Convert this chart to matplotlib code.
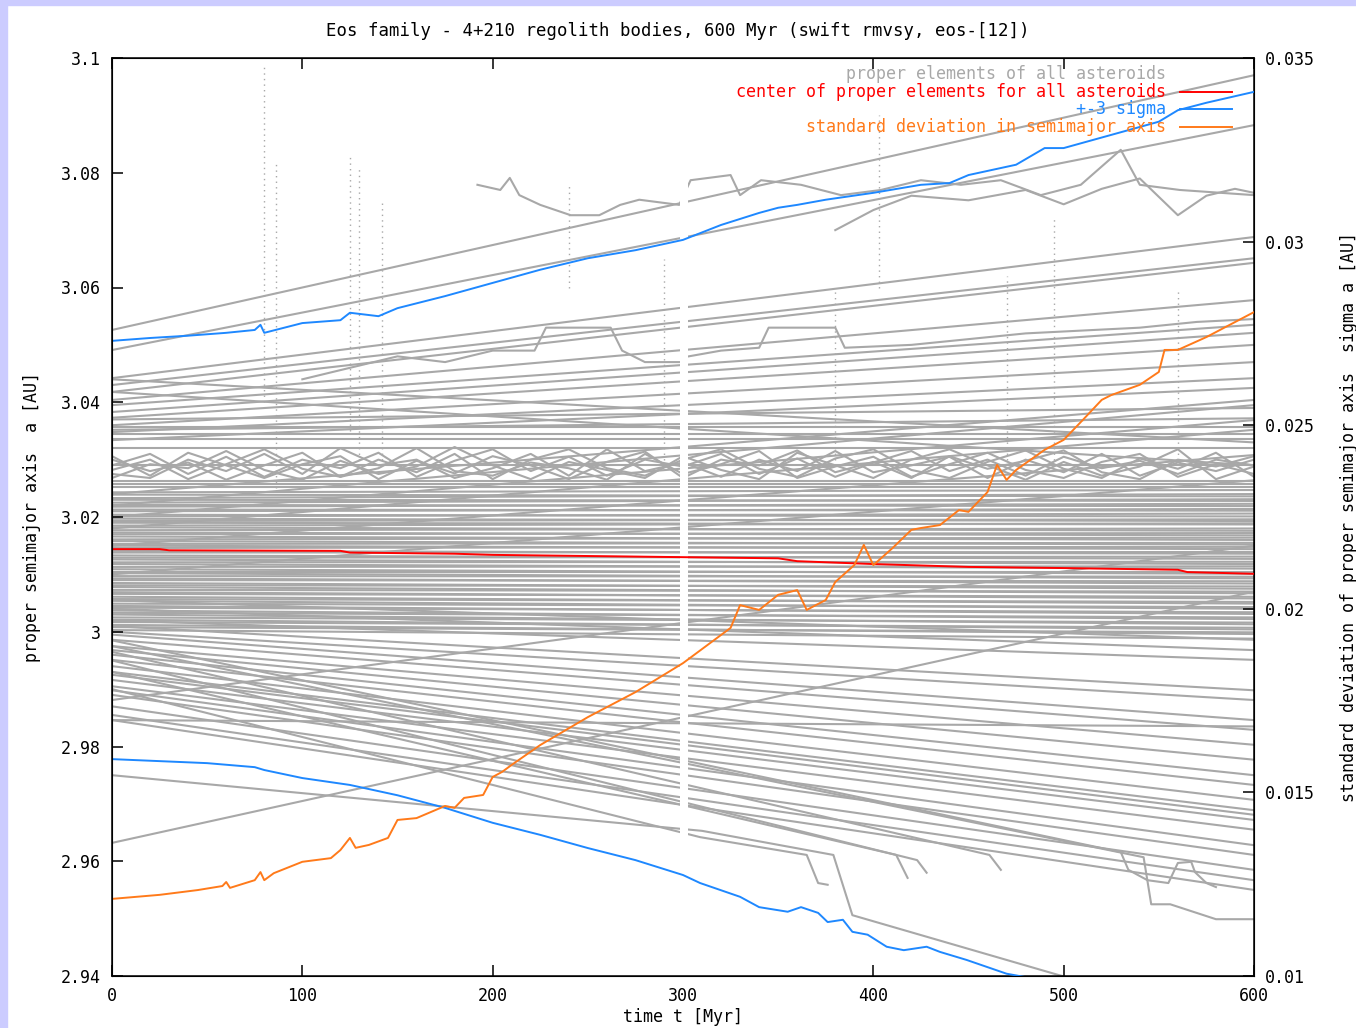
import numpy as np
import matplotlib.pyplot as plt
from matplotlib.ticker import FuncFormatter

# ---- data ----
# straight gray tracks: value at t=0 and at t=600 [AU]
band_start = [3.0243, 3.0239, 3.0233, 3.0230, 3.0225, 3.0221, 3.0218, 3.0213, 3.0210, 3.0204,
              3.0201, 3.0197, 3.0193, 3.0190, 3.0185, 3.0182, 3.0177, 3.0173, 3.0170, 3.0166,
              3.0161, 3.0158, 3.0153, 3.0150, 3.0146, 3.0141, 3.0138, 3.0133, 3.0129, 3.0126,
              3.0121, 3.0118, 3.0113, 3.0109, 3.0105, 3.0102, 3.0097, 3.0093, 3.0090, 3.0085,
              3.0081, 3.0078, 3.0073, 3.0069, 3.0066, 3.0061, 3.0057, 3.0054, 3.0049, 3.0045,
              3.0042, 3.0037, 3.0033, 3.0030, 3.0025, 3.0021, 3.0017, 3.0012, 3.0008, 3.0003]
band_end = [3.0247, 3.0236, 3.0240, 3.0228, 3.0231, 3.0219, 3.0223, 3.0211, 3.0214, 3.0201,
            3.0206, 3.0193, 3.0196, 3.0187, 3.0189, 3.0176, 3.0180, 3.0168, 3.0172, 3.0160,
            3.0164, 3.0152, 3.0155, 3.0144, 3.0148, 3.0136, 3.0139, 3.0127, 3.0131, 3.0118,
            3.0122, 3.0110, 3.0114, 3.0101, 3.0105, 3.0093, 3.0096, 3.0084, 3.0088, 3.0075,
            3.0079, 3.0067, 3.0070, 3.0058, 3.0061, 3.0049, 3.0052, 3.0040, 3.0043, 3.0031,
            3.0034, 3.0022, 3.0025, 3.0013, 3.0016, 3.0004, 3.0007, 2.9996, 2.9999, 2.9988]

rise_start = [3.0526, 3.0491, 3.0442, 3.0430, 3.0418, 3.0404, 3.0395, 3.0383, 3.0373, 3.0360,
              3.0348, 3.0334, 3.0240, 3.0220, 3.0200, 3.0180, 3.0150, 3.0100, 2.9632, 2.9881,
              3.0440, 3.0418, 3.0370, 3.0352]
rise_end = [3.0970, 3.0883, 3.0688, 3.0651, 3.0643, 3.0578, 3.0535, 3.0521, 3.0500, 3.0470,
            3.0442, 3.0425, 3.0404, 3.0395, 3.0369, 3.0352, 3.0308, 3.0264, 3.0070, 3.0150,
            3.0330, 3.0290, 3.0390, 3.0372]

fall_start = [3.0055, 3.0040, 3.0020, 3.0010, 3.0000, 2.9995, 2.9986, 2.9975, 2.9968, 2.9960,
              2.9951, 2.9940, 2.9930, 2.9925, 2.9916, 2.9905, 2.9898, 2.9890, 2.9870, 2.9855,
              2.9846, 2.9846]
fall_end = [2.9986, 2.9968, 2.9951, 2.9898, 2.9881, 2.9846, 2.9829, 2.9803, 2.9777, 2.9750,
            2.9733, 2.9707, 2.9689, 2.9681, 2.9672, 2.9655, 2.9628, 2.9611, 2.9585, 2.9567,
            2.9550, 2.9835]

# gray tracks with drops / jumps (t [Myr], a [AU])
odd_tracks = [
    ([0, 310, 379, 389, 497, 505], [2.9750, 2.9653, 2.9611, 2.9506, 2.9402, 2.9395]),
    ([0, 309, 365, 371, 376], [2.9900, 2.9642, 2.9611, 2.9562, 2.9559]),
    ([0, 412, 418], [2.9930, 2.9611, 2.9571]),
    ([0, 423, 428], [2.9950, 2.9602, 2.9580]),
    ([0, 461, 467], [2.9965, 2.9611, 2.9585]),
    ([0, 530, 534, 544, 555, 560, 567, 569, 575, 580],
     [2.9985, 2.9616, 2.9585, 2.9567, 2.9562, 2.9597, 2.9599, 2.9581, 2.9562, 2.9555]),
    ([0, 542, 546, 556, 580, 600], [2.9975, 2.9607, 2.9525, 2.9525, 2.9499, 2.9499]),
    ([192, 204, 209, 214, 225, 241, 256, 267, 277, 298, 304, 325, 330, 341, 362, 383, 404,
      425, 446, 467, 488, 509, 530, 540, 561, 600],
     [3.0779, 3.0770, 3.0791, 3.0761, 3.0744, 3.0726, 3.0726, 3.0744, 3.0753, 3.0744, 3.0787,
      3.0796, 3.0761, 3.0787, 3.0779, 3.0761, 3.0770, 3.0787, 3.0779, 3.0787, 3.0761, 3.0779,
      3.0840, 3.0779, 3.0770, 3.0761]),
    ([380, 400, 420, 450, 480, 500, 520, 540, 560, 575, 590, 600],
     [3.0700, 3.0735, 3.0760, 3.0752, 3.0770, 3.0745, 3.0772, 3.0790, 3.0726, 3.0760, 3.0772, 3.0765]),
    ([100, 150, 175, 200, 222, 228, 262, 268, 280, 298],
     [3.0440, 3.0480, 3.0470, 3.0490, 3.0490, 3.0530, 3.0530, 3.0490, 3.0470, 3.0470]),
    ([303, 320, 340, 345, 380, 385, 420, 450, 480, 510, 540, 570, 600],
     [3.0480, 3.0490, 3.0495, 3.0530, 3.0530, 3.0495, 3.0500, 3.0510, 3.0520, 3.0525, 3.0530, 3.0540, 3.0545]),
]

# oscillating tracks in the 3.03 AU band, sampled every 20 Myr
wig_t = [0, 20, 40, 60, 80, 100, 120, 140, 160, 180, 200, 220, 240, 260, 280, 300,
         320, 340, 360, 380, 400, 420, 440, 460, 480, 500, 520, 540, 560, 580, 600]
wig_a = [
    [3.0290, 3.0310, 3.0275, 3.0305, 3.0270, 3.0300, 3.0285, 3.0312, 3.0270, 3.0298, 3.0318,
     3.0280, 3.0305, 3.0272, 3.0300, 3.0288, 3.0310, 3.0275, 3.0302, 3.0270, 3.0295, 3.0315,
     3.0280, 3.0300, 3.0272, 3.0305, 3.0285, 3.0298, 3.0275, 3.0300, 3.0290],
    [3.0275, 3.0268, 3.0300, 3.0280, 3.0310, 3.0275, 3.0320, 3.0290, 3.0300, 3.0268, 3.0285,
     3.0310, 3.0272, 3.0318, 3.0280, 3.0295, 3.0270, 3.0300, 3.0280, 3.0315, 3.0278, 3.0290,
     3.0305, 3.0268, 3.0300, 3.0278, 3.0310, 3.0272, 3.0295, 3.0280, 3.0300],
    [3.0300, 3.0280, 3.0295, 3.0265, 3.0290, 3.0312, 3.0270, 3.0285, 3.0320, 3.0280, 3.0272,
     3.0295, 3.0285, 3.0265, 3.0310, 3.0275, 3.0292, 3.0315, 3.0268, 3.0288, 3.0305, 3.0270,
     3.0292, 3.0312, 3.0282, 3.0268, 3.0296, 3.0310, 3.0270, 3.0292, 3.0275],
    [3.0268, 3.0292, 3.0285, 3.0315, 3.0282, 3.0265, 3.0298, 3.0275, 3.0288, 3.0322, 3.0290,
     3.0266, 3.0296, 3.0282, 3.0268, 3.0306, 3.0282, 3.0266, 3.0312, 3.0290, 3.0268, 3.0300,
     3.0318, 3.0290, 3.0265, 3.0296, 3.0272, 3.0288, 3.0318, 3.0266, 3.0288],
    [3.0282, 3.0300, 3.0266, 3.0292, 3.0318, 3.0284, 3.0270, 3.0300, 3.0278, 3.0310, 3.0266,
     3.0300, 3.0318, 3.0285, 3.0272, 3.0300, 3.0318, 3.0284, 3.0270, 3.0302, 3.0318, 3.0282,
     3.0268, 3.0296, 3.0316, 3.0284, 3.0268, 3.0302, 3.0284, 3.0312, 3.0270],
    [3.0306, 3.0272, 3.0312, 3.0290, 3.0268, 3.0292, 3.0306, 3.0266, 3.0298, 3.0276, 3.0306,
     3.0290, 3.0266, 3.0296, 3.0314, 3.0268, 3.0300, 3.0290, 3.0316, 3.0278, 3.0296, 3.0268,
     3.0306, 3.0284, 3.0298, 3.0316, 3.0278, 3.0266, 3.0300, 3.0288, 3.0306],
]
flat_band = [3.0291, 3.0262, 3.0320, 3.0252, 3.0336, 3.0345, 3.0356, 3.0257]

# close-approach spikes (dotted): t, low a, high a
spike_t = [80, 86, 125, 130, 142, 240, 290, 380, 403, 470, 495, 560]
spike_lo = [3.040, 3.025, 3.035, 3.030, 3.030, 3.060, 3.030, 3.030, 3.060, 3.030, 3.030, 3.030]
spike_hi = [3.099, 3.082, 3.083, 3.081, 3.075, 3.078, 3.065, 3.060, 3.090, 3.062, 3.072, 3.060]

# center of proper elements
red_t = [0, 25, 30, 120, 125, 180, 200, 300, 350, 360, 400, 450, 500, 560, 565, 600]
red_a = [3.0144, 3.0144, 3.0142, 3.0141, 3.0138, 3.0136, 3.0134, 3.0130, 3.0128, 3.0123,
         3.0118, 3.0113, 3.0111, 3.0108, 3.0104, 3.0101]

# +-3 sigma
up_t = [0, 20, 40, 60, 75, 78, 80, 100, 120, 125, 140, 150, 175, 200, 225, 250, 275, 300,
        320, 340, 350, 360, 375, 400, 425, 440, 450, 475, 490, 500, 525, 550, 560, 575, 600]
up_a = [3.0507, 3.0512, 3.0516, 3.0521, 3.0526, 3.0535, 3.0521, 3.0538, 3.0543, 3.0556,
        3.0550, 3.0564, 3.0585, 3.0608, 3.0631, 3.0651, 3.0665, 3.0683, 3.0709, 3.0730,
        3.0739, 3.0744, 3.0753, 3.0765, 3.0779, 3.0782, 3.0796, 3.0814, 3.0843, 3.0843,
        3.0866, 3.0889, 3.0909, 3.0922, 3.0941]
lo_t = [0, 50, 75, 80, 100, 125, 150, 175, 200, 225, 250, 275, 300, 309, 330, 340, 355, 362,
        371, 376, 384, 389, 397, 407, 416, 428, 435, 449, 463, 470, 480]
lo_a = [2.9778, 2.9771, 2.9764, 2.9759, 2.9745, 2.9733, 2.9715, 2.9693, 2.9667, 2.9646,
        2.9623, 2.9602, 2.9576, 2.9562, 2.9538, 2.9520, 2.9512, 2.9520, 2.9510, 2.9494,
        2.9498, 2.9477, 2.9472, 2.9451, 2.9445, 2.9451, 2.9442, 2.9428, 2.9412, 2.9404, 2.9398]

# standard deviation (right axis)
sd_t = [0, 25, 45, 58, 60, 62, 75, 78, 80, 85, 100, 115, 120, 125, 128, 135, 145, 150, 160,
        175, 180, 185, 195, 200, 205, 210, 225, 250, 275, 300, 325, 330, 340, 350, 360, 365,
        375, 380, 390, 395, 400, 410, 420, 425, 435, 445, 450, 460, 465, 470, 475, 490, 500,
        510, 520, 525, 540, 550, 553, 560, 575, 600]
sd_v = [0.01210, 0.01221, 0.01234, 0.01245, 0.01256, 0.01240, 0.01261, 0.01283, 0.01261,
        0.01280, 0.01311, 0.01321, 0.01343, 0.01376, 0.01349, 0.01357, 0.01376, 0.01425,
        0.01430, 0.01463, 0.01458, 0.01485, 0.01493, 0.01542, 0.01556, 0.01575, 0.01629,
        0.01705, 0.01773, 0.01852, 0.01948, 0.02010, 0.01997, 0.02038, 0.02051, 0.01997,
        0.02024, 0.02073, 0.02119, 0.02174, 0.02119, 0.02165, 0.02215, 0.02220, 0.02228,
        0.02269, 0.02264, 0.02318, 0.02392, 0.02351, 0.02378, 0.02433, 0.02460, 0.02514,
        0.02569, 0.02582, 0.02610, 0.02645, 0.02705, 0.02705, 0.02740, 0.02808]

gray = '#a8a8a8'
mono = 'DejaVu Sans Mono'
plt.rcParams['font.family'] = mono
plt.rcParams['font.size'] = 12

fig = plt.figure(figsize=(13.56, 10.28), dpi=100)
fig.patches.append(plt.Rectangle((0, 0), 7 / 1356, 1, transform=fig.transFigure,
                                 color='#ccccff', zorder=0))
fig.patches.append(plt.Rectangle((0, 1 - 5 / 1028), 1, 5 / 1028, transform=fig.transFigure,
                                 color='#ccccff', zorder=0))
ax = fig.add_axes([112 / 1356, 52 / 1028, 1142 / 1356, 918 / 1028])

lw = 1.5
for a0, a1 in zip(band_start, band_end):
    ax.plot([0, 600], [a0, a1], color=gray, lw=lw, zorder=1)
for a0, a1 in zip(rise_start, rise_end):
    ax.plot([0, 600], [a0, a1], color=gray, lw=lw, zorder=1)
for a0, a1 in zip(fall_start, fall_end):
    ax.plot([0, 600], [a0, a1], color=gray, lw=lw, zorder=1)
for a in flat_band:
    ax.plot([0, 600], [a, a], color=gray, lw=lw, zorder=1)
for tt, aa in odd_tracks:
    ax.plot(tt, aa, color=gray, lw=lw, zorder=1)
for aa in wig_a:
    ax.plot(wig_t, aa, color=gray, lw=lw, zorder=1)
for t, lo, hi in zip(spike_t, spike_lo, spike_hi):
    ax.plot([t, t], [lo, hi], color=gray, lw=1.0, ls=(0, (1, 3)), zorder=1)

# missing output near 300 Myr
ax.axvspan(298.6, 302.7, color='white', lw=0, zorder=2)

ax.plot(red_t, red_a, color='#ff0000', lw=1.4, zorder=3)
ax.plot(up_t, up_a, color='#1e88ff', lw=1.4, zorder=3)
ax.plot(lo_t, lo_a, color='#1e88ff', lw=1.4, zorder=3)

ax.set_xlim(0, 600)
ax.set_ylim(2.94, 3.1)
ax.set_xticks(np.arange(0, 601, 100))
ax.set_yticks(np.arange(2.94, 3.1001, 0.02))
ax.yaxis.set_major_formatter(FuncFormatter(lambda v, p: '%g' % round(v, 4)))
ax.tick_params(direction='in', length=8, width=1.1, top=True, right=False, labelsize=12,
               pad=8)
for s in ax.spines.values():
    s.set_linewidth(1.1)

ax2 = ax.twinx()
ax2.plot(sd_t, sd_v, color='#ff7a1a', lw=1.4)
ax2.set_ylim(0.01, 0.035)
ax2.set_yticks([0.01, 0.015, 0.02, 0.025, 0.03, 0.035])
ax2.yaxis.set_major_formatter(FuncFormatter(lambda v, p: '%g' % round(v, 4)))
ax2.tick_params(direction='in', length=8, width=1.1, labelsize=12, pad=8)

ax.set_xlabel('time t [Myr]', fontsize=12, labelpad=2)
ax.set_ylabel('proper semimajor axis  a [AU]', fontsize=12, labelpad=14)
ax2.set_ylabel('standard deviation of proper semimajor axis  sigma a [AU]', fontsize=12,
               labelpad=18)
fig.text(0.5, 1 - 31 / 1028, 'Eos family - 4+210 regolith bodies, 600 Myr (swift rmvsy, eos-[12])',
         ha='center', va='center', fontsize=12.5)

# key, gnuplot style
key = [('proper elements of all asteroids', gray, False),
       ('center of proper elements for all asteroids', '#ff0000', True),
       ('+-3 sigma', '#1e88ff', True),
       ('standard deviation in semimajor axis', '#ff7a1a', True)]
for i, (lab, col, sample) in enumerate(key):
    y = 0.9826 - i * 0.0193
    ax2.text(0.9229, y, lab, color=col, ha='right', va='center', fontsize=12,
             transform=ax2.transAxes)
    if sample:
        ax2.plot([0.9352, 0.9807], [y, y], color=col, lw=1.4, transform=ax2.transAxes)

plt.savefig('out.png', dpi=100)
